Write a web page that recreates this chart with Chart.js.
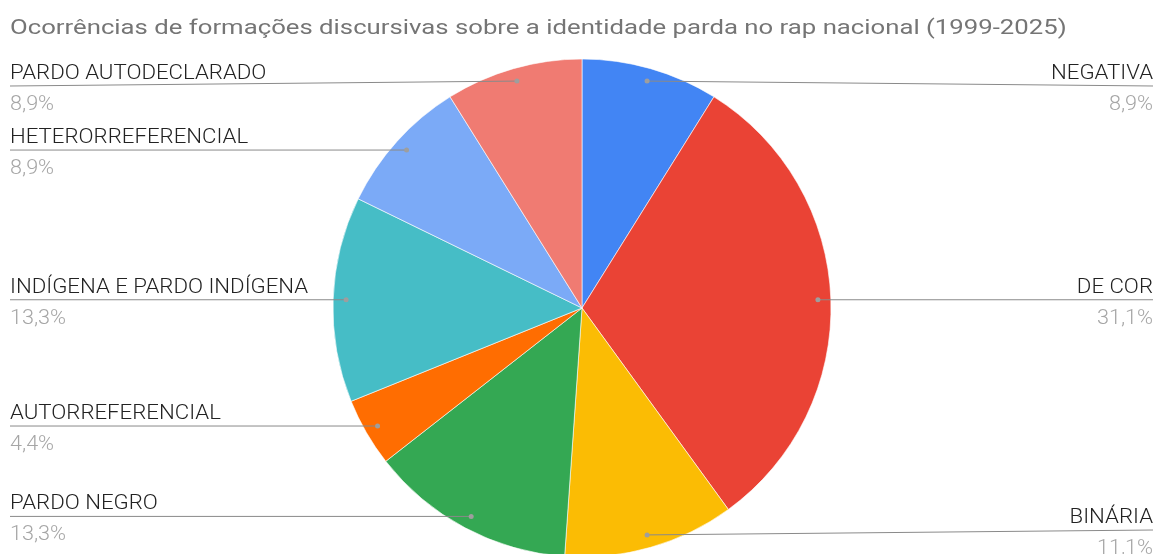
<!DOCTYPE html>
<html>
<head>
<meta charset="utf-8">
<script src="https://cdn.jsdelivr.net/npm/chart.js@4/dist/chart.umd.min.js"></script>
<style>
  html, body { margin: 0; padding: 0; background: #fff; }
  #wrap { width: 1158px; height: 554px; position: relative; }
</style>
</head>
<body>
<div id="wrap"><canvas id="pie"></canvas></div>
<script>
// -----------------------------
// DATA
// -----------------------------
const chartTitle = "Ocorrências de formações discursivas sobre a identidade parda no rap nacional (1999-2025)";
const categories = [
  "NEGATIVA",
  "DE COR",
  "BINÁRIA",
  "PARDO NEGRO",
  "AUTORREFERENCIAL",
  "INDÍGENA E PARDO INDÍGENA",
  "HETERORREFERENCIAL",
  "PARDO AUTODECLARADO"
];
const occurrences = [4, 14, 5, 6, 2, 6, 4, 4];
const sliceColors = ["#4285f4", "#ea4335", "#fbbc04", "#34a853", "#ff6d01", "#46bdc6", "#7baaf7", "#f07b72"];

// draw text slightly widened (the original rendering is a bit stretched)
function wideText(ctx, text, x, y, sx) {
  ctx.save();
  ctx.translate(x, y);
  ctx.scale(sx, 1);
  ctx.fillText(text, 0, 0);
  ctx.restore();
}

// -----------------------------
// LABEL PLUGIN (leader lines + names + percents)
// -----------------------------
const leaderLabels = {
  id: "leaderLabels",
  afterDatasetsDraw(chart) {
    const ctx = chart.ctx;
    const meta = chart.getDatasetMeta(0);
    const total = occurrences.reduce((a, b) => a + b, 0);
    const W = chart.width;

    ctx.save();
    meta.data.forEach((arc, i) => {
      const p = arc.getProps(["x", "y", "startAngle", "endAngle", "outerRadius"], true);
      const mid = (p.startAngle + p.endAngle) / 2;
      const r = p.outerRadius * 0.948;
      const dx = p.x + Math.cos(mid) * r;
      const dy = p.y + Math.sin(mid) * r;
      const rightSide = Math.cos(mid) >= 0;
      const lineY = Math.min(Math.max(dy, 86), 530);
      const endX = rightSide ? W - 5 : 10;

      // leader line
      ctx.strokeStyle = "#8a8a8a";
      ctx.lineWidth = 1;
      ctx.beginPath();
      ctx.moveTo(dx, dy);
      ctx.lineTo(endX, lineY);
      ctx.stroke();

      // dot
      ctx.fillStyle = "#9e9e9e";
      ctx.beginPath();
      ctx.arc(dx, dy, 2.5, 0, Math.PI * 2);
      ctx.fill();

      // texts
      const pct = (occurrences[i] / total * 100).toFixed(1).replace(".", ",") + "%";
      ctx.textAlign = rightSide ? "right" : "left";
      ctx.textBaseline = "alphabetic";
      ctx.font = "300 20px Roboto";
      ctx.fillStyle = "#222222";
      wideText(ctx, categories[i], endX, lineY - 7, 1.11);
      ctx.fillStyle = "#a6a6a6";
      wideText(ctx, pct, endX, lineY + 24, 1.08);
    });

    // title
    ctx.textAlign = "left";
    ctx.font = "21px Roboto";
    ctx.fillStyle = "#757575";
    wideText(ctx, chartTitle, 10, 34, 1.225);
    ctx.restore();
  }
};

// -----------------------------
// CHART
// -----------------------------
new Chart(document.getElementById("pie").getContext("2d"), {
  type: "pie",
  data: {
    labels: categories,
    datasets: [{
      data: occurrences,
      backgroundColor: sliceColors,
      borderColor: "#ffffff",
      borderWidth: 0.6,
      radius: 249
    }]
  },
  options: {
    responsive: true,
    maintainAspectRatio: false,
    animation: false,
    layout: { padding: { top: 62, bottom: 0, left: 6, right: 0 } },
    plugins: {
      legend: { display: false },
      title: { display: false },
      tooltip: { enabled: false }
    }
  },
  plugins: [leaderLabels]
});
</script>
</body>
</html>
